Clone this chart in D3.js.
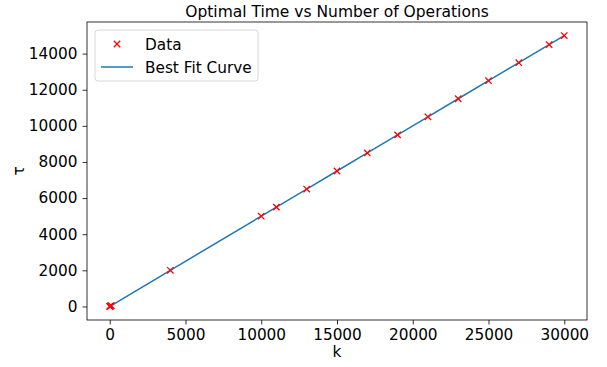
<!DOCTYPE html>
<html><head><meta charset="utf-8">
<script src="https://cdn.jsdelivr.net/npm/d3@7"></script>
<style>body{margin:0;background:#fff}svg{display:block}text{font-family:"DejaVu Sans",sans-serif;fill:#000}</style>
</head><body><svg id="c" width="607" height="367"></svg>
<script>
const kValues = [1, 10, 50, 100, 4000, 10000, 11000, 13000, 15000, 17000, 19000, 21000, 23000, 25000, 27000, 29000, 30000];
const tauValues = [0.5, 5, 25, 50, 2000, 5000, 5500, 6500, 7500, 8500, 9500, 10500, 11500, 12500, 13500, 14500, 15000];
const fitValues = [0.5, 5, 25, 50, 2000, 5000, 5500, 6500, 7500, 8500, 9500, 10500, 11500, 12500, 13500, 14500, 15000];
const xTicks = [0, 5000, 10000, 15000, 20000, 25000, 30000];
const yTicks = [0, 2000, 4000, 6000, 8000, 10000, 12000, 14000];

const svg = d3.select('#c');
const L = 87, R = 587, T = 22, B = 320;
const FS = 15.3;
const x = d3.scaleLinear().domain([-1500, 31500]).range([L, R]);
const y = d3.scaleLinear().domain([-750, 15750]).range([B, T]);

// line
svg.append('path')
  .datum(kValues.map((k, i) => [k, fitValues[i]]))
  .attr('fill', 'none').attr('stroke', '#1f77b4').attr('stroke-width', 1.5)
  .attr('d', d3.line().x(d => x(d[0])).y(d => y(d[1])));

// markers
const ms = 3.2;
const mk = svg.append('g');
kValues.forEach((k, i) => {
  const cx = x(k), cy = y(tauValues[i]);
  mk.append('path')
    .attr('d', `M${cx-ms},${cy-ms}L${cx+ms},${cy+ms}M${cx-ms},${cy+ms}L${cx+ms},${cy-ms}`)
    .attr('stroke', 'red').attr('stroke-width', 1.3).attr('fill', 'none');
});

// axes
const xa = svg.append('g').attr('transform', `translate(0,${B})`)
  .call(d3.axisBottom(x).tickValues(xTicks).tickFormat(d3.format('d')).tickSize(4.5).tickPadding(5));
const ya = svg.append('g').attr('transform', `translate(${L},0)`)
  .call(d3.axisLeft(y).tickValues(yTicks).tickFormat(d3.format('d')).tickSize(4.5).tickPadding(5));
[xa, ya].forEach(a => {
  a.select('.domain').remove();
  a.selectAll('line').attr('stroke', '#000').attr('stroke-width', 0.8);
  a.selectAll('text').attr('font-size', FS).attr('font-family', '"DejaVu Sans",sans-serif').attr('fill', '#000');
});
svg.append('rect').attr('x', L).attr('y', T).attr('width', R - L).attr('height', B - T)
  .attr('fill', 'none').attr('stroke', '#000').attr('stroke-width', 0.8);

// titles
svg.append('text').attr('x', (L + R) / 2).attr('y', 17).attr('text-anchor', 'middle')
  .attr('font-size', 15.5).text('Optimal Time vs Number of Operations');
svg.append('text').attr('x', (L + R) / 2).attr('y', 357).attr('text-anchor', 'middle')
  .attr('font-size', FS).text('k');
svg.append('text').attr('transform', `translate(24,${(T + B) / 2}) rotate(-90)`).attr('text-anchor', 'middle')
  .attr('font-size', FS).text('τ');

// legend
const lg = svg.append('g');
lg.append('rect').attr('x', 95).attr('y', 30).attr('width', 163).attr('height', 51).attr('rx', 3)
  .attr('fill', '#fff').attr('fill-opacity', 0.8).attr('stroke', '#ccc').attr('stroke-width', 0.8);
const lx = 117, ly1 = 44, ly2 = 67;
lg.append('path').attr('d', `M${lx-ms},${ly1-ms}L${lx+ms},${ly1+ms}M${lx-ms},${ly1+ms}L${lx+ms},${ly1-ms}`)
  .attr('stroke', 'red').attr('stroke-width', 1.3);
lg.append('line').attr('x1', 101).attr('x2', 133).attr('y1', ly2).attr('y2', ly2)
  .attr('stroke', '#1f77b4').attr('stroke-width', 1.5);
lg.append('text').attr('x', 145).attr('y', ly1 + 5.5).attr('font-size', FS).text('Data');
lg.append('text').attr('x', 145).attr('y', ly2 + 5.5).attr('font-size', FS).text('Best Fit Curve');
</script></body></html>
